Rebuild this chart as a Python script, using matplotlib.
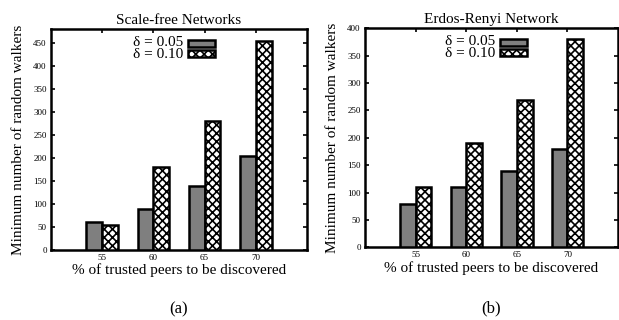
import matplotlib
matplotlib.use("Agg")
import matplotlib.pyplot as plt
from matplotlib.patches import Rectangle
import numpy as np

plt.rcParams['font.family'] = ['Liberation Serif', 'DejaVu Serif']
plt.rcParams['hatch.linewidth'] = 1.2

categories = ["55", "60", "65", "70"]
series_names = ["\u03b4 = 0.05", "\u03b4 = 0.10"]

sf_d005 = [60, 90, 140, 205]
sf_d010 = [55, 180, 280, 455]

er_d005 = [80, 110, 140, 180]
er_d010 = [110, 190, 270, 380]

titles = ["Scale-free Networks", "Erdos-Renyi Network"]
panel_tags = ["(a)", "(b)"]
yticks_a = [0, 50, 100, 150, 200, 250, 300, 350, 400, 450]
yticks_b = [0, 50, 100, 150, 200, 250, 300, 350, 400]

fig = plt.figure(figsize=(6.19, 3.2), dpi=100)
ax1 = fig.add_axes([0.0824, 0.219, 0.4136, 0.690])
ax2 = fig.add_axes([0.5897, 0.2272, 0.4087, 0.684])

def draw(ax, v1, v2, title, yticks, ymax, tag, tag_y):
    x = np.arange(len(categories))
    w = 0.31
    ax.bar(x - w/2, v1, width=w, color='#7f7f7f', edgecolor='black', linewidth=1.8, zorder=3)
    ax.bar(x + w/2, v2, width=w, color='white', edgecolor='black', hatch='xxxx', linewidth=1.8, zorder=3)
    ax.set_xlim(-1, 4)
    ax.set_ylim(0, ymax)
    ax.set_xticks(x)
    ax.set_xticklabels(categories, fontsize=6.5)
    ax.set_yticks(yticks)
    ax.set_yticklabels([str(t) for t in yticks], fontsize=6.5)
    ax.tick_params(direction='in', length=3, width=1.2, top=True, right=True, pad=3)
    for s in ax.spines.values():
        s.set_linewidth(1.8)
    ax.set_title(title, fontsize=11, pad=4)
    ax.set_ylabel("Minimum number of random walkers", fontsize=11, labelpad=6)
    ax.set_xlabel("% of trusted peers to be discovered", fontsize=11, labelpad=1)
    # legend (manual, gnuplot-like)
    ax.text(0.515, 0.94, series_names[0], transform=ax.transAxes, ha='right', va='center', fontsize=11, zorder=5)
    ax.text(0.515, 0.885, series_names[1], transform=ax.transAxes, ha='right', va='center', fontsize=11, zorder=5)
    r1 = Rectangle((0.535, 0.92), 0.105, 0.032, transform=ax.transAxes, facecolor='#7f7f7f', edgecolor='black', linewidth=1.8, zorder=5)
    r2 = Rectangle((0.535, 0.872), 0.105, 0.032, transform=ax.transAxes, facecolor='white', edgecolor='black', hatch='xxxx', linewidth=1.8, zorder=5)
    ax.add_patch(r1)
    ax.add_patch(r2)
    ax.text(0.5, tag_y, tag, transform=ax.transAxes, ha='center', va='center', fontsize=12)

draw(ax1, sf_d005, sf_d010, titles[0], yticks_a, 480, panel_tags[0], -0.27)
draw(ax2, er_d005, er_d010, titles[1], yticks_b, 400, panel_tags[1], -0.28)

fig.savefig("out.png", dpi=100)
